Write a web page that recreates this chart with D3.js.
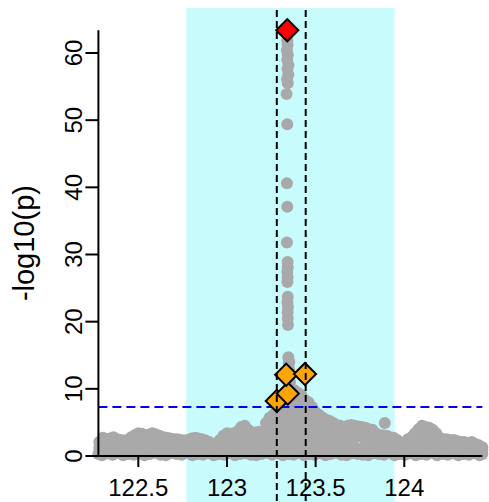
<!DOCTYPE html>
<html>
<head>
<meta charset="utf-8">
<script src="https://cdn.jsdelivr.net/npm/d3@7"></script>
<style>
  body { margin: 0; background: #fff; }
  svg text { font-family: "Liberation Sans", Arial, Helvetica, sans-serif; fill: #000; }
</style>
</head>
<body>
<svg id="chart" width="489" height="502"></svg>
<script>
// region shown on the plot (Mb) and the highlighted locus
const highlightRegion = [122.77, 123.945];
const markerLines = [123.281, 123.444];
const gwasThreshold = 7.3;
const xTicks = [122.5, 123, 123.5, 124];
const xTickLabels = ["122.5", "123", "123.5", "124"];
const yTicks = [0, 10, 20, 30, 40, 50, 60];

// lead SNP and the other significant ones (pos Mb, -log10 p)
const leadSnp = [[123.340, 63.4]];
const topSnps = [[123.281, 8.2], [123.343, 9.3], [123.334, 12.1], [123.440, 12.2]];

// the column of SNPs under the lead one
const peakColumn = [
  [123.340, 61.9], [123.342, 61.2], [123.338, 60.4], [123.343, 59.7], [123.340, 59.0],
  [123.347, 58.2], [123.341, 57.6], [123.346, 56.8], [123.339, 56.1], [123.343, 55.5],
  [123.336, 53.9], [123.340, 49.4], [123.338, 40.6], [123.340, 37.1], [123.338, 31.8],
  [123.342, 28.9], [123.343, 28.1], [123.340, 27.4], [123.342, 26.6], [123.341, 25.9],
  [123.343, 23.7], [123.341, 22.9], [123.344, 22.2], [123.342, 21.4], [123.343, 20.5],
  [123.344, 19.5], [123.346, 14.7], [123.348, 13.8], [123.350, 12.9], [123.345, 11.6],
  [123.350, 10.4], [123.356, 11.0], [123.352, 14.0]
];

// background SNPs, highest ones first
const bgTop = [
  [122.28, 2.1], [122.30, 2.7], [122.32, 2.5], [122.34, 2.6], [122.36, 2.8], [122.38, 2.5],
  [122.40, 2.4], [122.42, 2.3], [122.44, 2.4], [122.46, 2.8], [122.48, 3.1], [122.50, 3.4],
  [122.52, 3.3], [122.54, 3.0], [122.56, 3.2], [122.58, 3.4], [122.60, 3.2], [122.62, 3.0],
  [122.64, 2.8], [122.66, 2.7], [122.68, 2.6], [122.70, 2.5], [122.72, 2.5], [122.74, 2.4],
  [122.76, 2.3], [122.78, 2.4], [122.80, 2.6], [122.82, 2.7], [122.84, 2.6], [122.86, 2.5],
  [122.88, 2.3], [122.90, 2.1], [122.92, 1.8], [122.94, 1.6], [122.96, 2.4], [122.98, 3.0],
  [123.00, 3.4], [123.02, 3.3], [123.04, 3.4], [123.06, 3.7], [123.08, 4.3], [123.10, 4.5],
  [123.12, 3.9], [123.14, 3.4], [123.16, 3.5], [123.18, 3.6], [123.20, 3.4], [123.22, 4.9],
  [123.24, 5.7], [123.26, 6.1], [123.28, 6.8], [123.30, 7.6], [123.32, 8.3], [123.38, 9.8],
  [123.40, 9.4], [123.42, 9.1], [123.44, 8.3], [123.46, 8.0], [123.48, 7.3], [123.50, 6.5],
  [123.52, 6.1], [123.54, 5.7], [123.56, 5.4], [123.58, 5.2], [123.60, 4.9], [123.62, 4.6],
  [123.64, 4.5], [123.66, 4.3], [123.68, 4.5], [123.70, 4.6], [123.72, 4.5], [123.74, 4.4],
  [123.76, 4.3], [123.78, 4.2], [123.80, 4.0], [123.82, 3.9], [123.84, 3.4], [123.86, 3.1],
  [123.88, 3.1], [123.89, 4.9], [123.90, 3.0], [123.92, 2.8], [123.94, 2.7], [123.96, 2.4],
  [123.98, 1.6], [124.00, 1.9], [124.02, 2.5], [124.04, 2.8], [124.06, 3.4], [124.08, 4.0],
  [124.10, 4.5], [124.12, 4.3], [124.14, 4.2], [124.16, 3.9], [124.18, 3.4], [124.20, 2.7],
  [124.22, 2.5], [124.24, 2.5], [124.26, 2.4], [124.28, 2.4], [124.30, 2.2], [124.32, 2.1],
  [124.34, 2.1], [124.36, 1.9], [124.38, 2.1], [124.40, 1.8], [124.42, 1.6], [124.44, 1.3]
];

const bgUpper = [
  [122.47, 2.5], [122.50, 2.7], [122.53, 2.4], [122.56, 2.6], [122.59, 2.5], [122.62, 2.3],
  [122.99, 2.4], [123.02, 2.6], [123.05, 2.8], [123.08, 2.7], [123.11, 3.0], [123.14, 2.5],
  [123.17, 2.6], [123.20, 2.7], [123.23, 2.9], [123.26, 2.8], [123.29, 3.0], [123.32, 2.7],
  [123.35, 2.9], [123.38, 3.1], [123.41, 2.8], [123.44, 2.6], [123.47, 2.9], [123.50, 2.7],
  [123.53, 2.8], [123.56, 2.6], [123.59, 2.9], [123.62, 2.7], [123.65, 2.5], [123.68, 2.8],
  [123.71, 2.6], [123.74, 2.9], [123.77, 2.7], [123.80, 2.5], [123.83, 2.6], [123.86, 2.4],
  [123.89, 2.4], [123.92, 2.2], [124.05, 2.4], [124.08, 2.7], [124.11, 2.9], [124.14, 2.6],
  [124.17, 2.5],
  [123.07, 3.5], [123.10, 3.7], [123.13, 3.3],
  [123.22, 4.0], [123.25, 4.2], [123.28, 4.1], [123.31, 4.3], [123.34, 4.2], [123.37, 4.4],
  [123.40, 4.1], [123.43, 4.3], [123.46, 4.0], [123.49, 4.2], [123.52, 3.9], [123.55, 4.1],
  [123.58, 3.8], [123.61, 3.7], [123.64, 3.8], [123.67, 3.6], [123.70, 3.8], [123.73, 3.7],
  [123.76, 3.6], [123.79, 3.5], [124.09, 3.6], [124.12, 3.5], [124.15, 3.4],
  [123.25, 5.4], [123.28, 5.6], [123.31, 5.8], [123.34, 5.7], [123.37, 5.9], [123.40, 5.6],
  [123.43, 5.5], [123.46, 5.8], [123.49, 5.3], [123.52, 5.0], [123.55, 4.8], [123.58, 4.6],
  [123.30, 6.9], [123.33, 7.1], [123.36, 7.3], [123.39, 7.0], [123.42, 7.2], [123.45, 6.8],
  [123.33, 8.4], [123.36, 8.6], [123.39, 8.3], [123.41, 8.5]
];

const bgMid = [
  [122.28, 1.2], [122.31, 1.4], [122.34, 1.1], [122.37, 1.5], [122.40, 1.3], [122.43, 1.0],
  [122.46, 1.6], [122.49, 1.4], [122.52, 1.2], [122.55, 1.5], [122.58, 1.3], [122.61, 1.1],
  [122.64, 1.4], [122.67, 1.2], [122.70, 1.5], [122.73, 1.3], [122.76, 1.0], [122.79, 1.4],
  [122.82, 1.6], [122.85, 1.2], [122.88, 1.3], [122.91, 1.1], [122.94, 1.0], [122.97, 1.4],
  [123.00, 1.5], [123.03, 1.2], [123.06, 1.6], [123.09, 1.3], [123.12, 1.4], [123.15, 1.1],
  [123.18, 1.5], [123.21, 1.3], [123.24, 1.6], [123.27, 1.4], [123.30, 1.2], [123.33, 1.5],
  [123.36, 1.3], [123.39, 1.6], [123.42, 1.1], [123.45, 1.4], [123.48, 1.5], [123.51, 1.2],
  [123.54, 1.3], [123.57, 1.6], [123.60, 1.1], [123.63, 1.4], [123.66, 1.2], [123.69, 1.5],
  [123.72, 1.3], [123.75, 1.0], [123.78, 1.4], [123.81, 1.6], [123.84, 1.2], [123.87, 1.3],
  [123.90, 1.5], [123.93, 1.1], [123.96, 1.2], [123.99, 1.0], [124.02, 1.3], [124.05, 1.5],
  [124.08, 1.2], [124.11, 1.4], [124.14, 1.6], [124.17, 1.3], [124.20, 1.1], [124.23, 1.4],
  [124.26, 1.2], [124.29, 1.5], [124.32, 1.0], [124.35, 1.3], [124.38, 1.1], [124.41, 1.2],
  [124.44, 0.9]
];

const bgLow = [
  [122.275, 0.3], [122.295, 0.1], [122.325, 0.4], [122.355, 0.2], [122.385, 0.5], [122.415, 0.1],
  [122.445, 0.3], [122.475, 0.2], [122.505, 0.4], [122.535, 0.1], [122.565, 0.3], [122.595, 0.5],
  [122.625, 0.2], [122.655, 0.1], [122.685, 0.4], [122.715, 0.3], [122.745, 0.2], [122.775, 0.5],
  [122.805, 0.1], [122.835, 0.3], [122.865, 0.2], [122.895, 0.4], [122.925, 0.1], [122.955, 0.3],
  [122.985, 0.2], [123.015, 0.5], [123.045, 0.1], [123.075, 0.3], [123.105, 0.4], [123.135, 0.2],
  [123.165, 0.1], [123.195, 0.3], [123.225, 0.5], [123.255, 0.2], [123.285, 0.4], [123.315, 0.1],
  [123.345, 0.3], [123.375, 0.2], [123.405, 0.5], [123.435, 0.1], [123.465, 0.3], [123.495, 0.2],
  [123.525, 0.4], [123.555, 0.1], [123.585, 0.3], [123.615, 0.5], [123.645, 0.2], [123.675, 0.1],
  [123.705, 0.4], [123.735, 0.3], [123.765, 0.2], [123.795, 0.1], [123.825, 0.4], [123.855, 0.3],
  [123.885, 0.2], [123.915, 0.5], [123.945, 0.1], [123.975, 0.3], [124.005, 0.2], [124.035, 0.4],
  [124.065, 0.1], [124.095, 0.3], [124.125, 0.2], [124.155, 0.5], [124.185, 0.1], [124.215, 0.3],
  [124.245, 0.2], [124.275, 0.4], [124.305, 0.1], [124.335, 0.3], [124.365, 0.2], [124.395, 0.4],
  [124.425, 0.1], [124.440, 0.3]
];

function drawLocusPlot() {
    const svg = d3.select("#chart");
    const width = 489, height = 502;
    const plotTop = 8;
    const pointRadius = 6;

    const x = d3.scaleLinear().domain([122.5, 124]).range([138.3, 404.3]);
    const y = d3.scaleLinear().domain([0, 60]).range([456, 53]);

    const bgSnps = bgLow.concat(bgMid, bgUpper, bgTop, peakColumn);
    const allSnps = bgSnps.concat(topSnps, leadSnp);
    const xExtent = d3.extent(allSnps, d => d[0]);
    const yMax = d3.max(allSnps, d => d[1]);

    // highlighted locus
    svg.append("rect")
        .attr("x", x(highlightRegion[0]))
        .attr("y", plotTop)
        .attr("width", x(highlightRegion[1]) - x(highlightRegion[0]))
        .attr("height", height - plotTop)
        .attr("fill", "#c8fcfc");

    // grey background snps
    svg.append("g")
        .selectAll("circle")
        .data(bgSnps)
        .join("circle")
        .attr("cx", d => x(d[0]))
        .attr("cy", d => y(d[1]))
        .attr("r", pointRadius)
        .attr("fill", "#a9a9a9");

    // genome wide threshold
    svg.append("line")
        .attr("x1", x(xExtent[0])).attr("x2", x(xExtent[1]))
        .attr("y1", y(gwasThreshold)).attr("y2", y(gwasThreshold))
        .attr("stroke", "#0000ff")
        .attr("stroke-width", 2)
        .attr("stroke-dasharray", "9,5");

    // axes, R style (line only spans the data)
    const axes = svg.append("g").attr("stroke", "#000").attr("stroke-width", 2);
    axes.append("line")
        .attr("x1", x(xExtent[0])).attr("x2", x(xExtent[1]))
        .attr("y1", y(0)).attr("y2", y(0));
    axes.selectAll(".xtick")
        .data(xTicks)
        .join("line")
        .attr("class", "xtick")
        .attr("x1", d => x(d)).attr("x2", d => x(d))
        .attr("y1", y(0)).attr("y2", y(0) + 11);
    axes.append("line")
        .attr("x1", x(xExtent[0])).attr("x2", x(xExtent[0]))
        .attr("y1", y(0)).attr("y2", y(yMax));
    axes.selectAll(".ytick")
        .data(yTicks)
        .join("line")
        .attr("class", "ytick")
        .attr("x1", x(xExtent[0]) - 13).attr("x2", x(xExtent[0]))
        .attr("y1", d => y(d)).attr("y2", d => y(d));

    svg.selectAll(".xlab")
        .data(xTicks)
        .join("text")
        .attr("class", "xlab")
        .attr("x", d => x(d))
        .attr("y", 496)
        .attr("text-anchor", "middle")
        .attr("font-size", 24)
        .text((d, i) => xTickLabels[i]);

    svg.selectAll(".ylab")
        .data(yTicks)
        .join("text")
        .attr("class", "ylab")
        .attr("transform", d => `translate(82,${y(d)}) rotate(-90)`)
        .attr("text-anchor", "middle")
        .attr("font-size", 24)
        .text(d => d);

    svg.append("text")
        .attr("transform", `translate(34,${(y(0) + y(yMax)) / 2}) rotate(-90)`)
        .attr("text-anchor", "middle")
        .attr("font-size", 29)
        .text("-log10(p)");

    // diamonds for significant + lead snps
    const diamond = d3.symbol(d3.symbolSquare, 245);
    svg.append("g")
        .selectAll("path")
        .data(topSnps)
        .join("path")
        .attr("d", diamond)
        .attr("transform", d => `translate(${x(d[0])},${y(d[1])}) rotate(45)`)
        .attr("fill", "#ffa500")
        .attr("stroke", "#000")
        .attr("stroke-width", 2);
    svg.append("g")
        .selectAll("path")
        .data(leadSnp)
        .join("path")
        .attr("d", diamond)
        .attr("transform", d => `translate(${x(d[0])},${y(d[1])}) rotate(45)`)
        .attr("fill", "#ff0000")
        .attr("stroke", "#000")
        .attr("stroke-width", 2);

    // boundaries of the locus
    svg.selectAll(".bound")
        .data(markerLines)
        .join("line")
        .attr("class", "bound")
        .attr("x1", d => x(d)).attr("x2", d => x(d))
        .attr("y1", plotTop + 2).attr("y2", height)
        .attr("stroke", "#000")
        .attr("stroke-width", 2)
        .attr("stroke-dasharray", "7,4");
}

drawLocusPlot();
</script>
</body>
</html>
